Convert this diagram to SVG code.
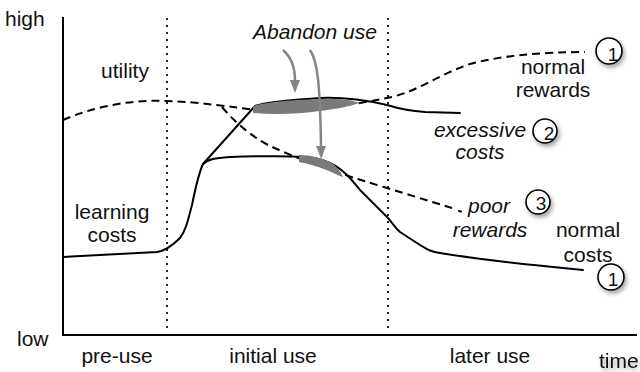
<svg xmlns="http://www.w3.org/2000/svg" width="640" height="372" viewBox="0 0 640 372">
  <defs>
    <style>
      text { font-family: "Liberation Sans", Arial, sans-serif; font-size: 21px; fill: #111; }
      .it { font-style: italic; }
      .mid { text-anchor: middle; }
      .axis { stroke: #000; stroke-width: 2; fill: none; }
      .phase { stroke: #222; stroke-width: 2; stroke-dasharray: 2 5; fill: none; }
      .solid { stroke: #000; stroke-width: 2; fill: none; stroke-linejoin: round; stroke-linecap: round; }
      .dash { stroke: #000; stroke-width: 2; fill: none; stroke-dasharray: 8 5; }
      .blob { fill: #7a7a7a; }
      .pointer { stroke: #858585; stroke-width: 2.5; fill: none; }
      .badge circle { fill: #fff; stroke: #000; stroke-width: 1.6; }
      .badge text { font-size: 19px; text-anchor: middle; }
    </style>
    <filter id="shadow" x="-50%" y="-50%" width="200%" height="200%">
      <feDropShadow dx="2" dy="3" stdDeviation="2" flood-color="#000" flood-opacity="0.35"/>
    </filter>
    <marker id="head" viewBox="0 0 13 10" refX="0" refY="5" markerWidth="13" markerHeight="10" markerUnits="userSpaceOnUse" orient="auto">
      <path d="M0,0 L13,5 L0,10 Z" fill="#858585"/>
    </marker>
  </defs>

  <rect width="640" height="372" fill="#fff"/>

  <!-- axes -->
  <g id="axes">
    <path class="axis" d="M63,17 V335 H637"/>
    <text x="5" y="26">high</text>
    <text x="17" y="346">low</text>
    <text x="599" y="368" filter="url(#shadow)">time</text>
  </g>

  <!-- phase boundaries and phase names -->
  <g id="phases">
    <line class="phase" x1="167" y1="18" x2="167" y2="332"/>
    <line class="phase" x1="388" y1="18" x2="388" y2="332"/>
    <text x="117" y="363" class="mid">pre-use</text>
    <text x="273" y="363" class="mid">initial use</text>
    <text x="490" y="363" class="mid">later use</text>
  </g>

  <!-- curves -->
  <g id="connectors">
    <!-- utility: normal rewards -->
    <path class="dash" d="M63,120 C90,108 130,99 166,101 C200,102 232,107 255,110 C290,112 330,107 360,103 C372,101 382,99 392,97 C420,90 440,74 470,64 C500,56 540,52 585,52"/>
    <!-- utility: poor rewards -->
    <path class="dash" d="M222,107 C234,121 248,134 268,145 C300,160 340,174 387,188 L452,208"/>
    <path class="solid" d="M459,211 L461,211.5"/>
    <!-- costs: excessive costs -->
    <path class="solid" d="M203,164 L255,106 C266,102 290,100 320,98 C345,97 365,100 387,105 C400,109 410,111 425,112 L460,113"/>
    <!-- costs: learning costs to normal costs -->
    <path class="solid" d="M63,257 C100,255 140,253 157,252 C164,251 172,246 180,238 C186,230 188,220 192,205 C195,190 198,175 203,164 C208,159 215,158 230,157 C260,156 290,156 305,157 C312,158 316,158 322,160 C332,163 340,168 347,175 C352,180 356,185 360,190 C370,200 380,210 387,217 C392,222 395,228 400,232 L420,245 C428,250 432,252 440,253 C470,258 520,264 573,269 L583,270"/>
    <!-- abandonment zones -->
    <path class="blob" d="M253,106 C266,102 290,100 320,99 C340,98 352,100 359,103 C352,106 336,109 320,111 C300,114 275,115 253,113 Z"/>
    <path class="blob" d="M299,155 C312,155 322,158 332,163 C337,167 340,171 343,177 C337,175 330,171 322,168 C312,165 305,163 299,162 Z"/>
    <!-- abandon use pointers -->
    <path class="pointer" d="M283,50 C291,57 295,66 295,80" marker-end="url(#head)"/>
    <path class="pointer" d="M310,50 C317,60 320,80 321,146" marker-end="url(#head)"/>
  </g>

  <!-- curve labels -->
  <g id="labels">
    <text x="125" y="78" class="mid">utility</text>
    <text x="112" y="219" class="mid">learning</text>
    <text x="112" y="242" class="mid">costs</text>
    <text x="315" y="39" class="it mid">Abandon use</text>
    <text x="553" y="74" class="mid">normal</text>
    <text x="553" y="97" class="mid">rewards</text>
    <text x="480" y="137" class="it mid">excessive</text>
    <text x="480" y="159" class="it mid">costs</text>
    <text x="489" y="213" class="it mid">poor</text>
    <text x="490" y="237" class="it mid">rewards</text>
    <text x="588" y="237" class="mid">normal</text>
    <text x="588" y="262" class="mid">costs</text>
  </g>

  <!-- outcome badges -->
  <g id="badge-normal-rewards" class="badge">
    <circle cx="609" cy="51" r="13" filter="url(#shadow)"/>
    <text x="613" y="61">1</text>
  </g>
  <g id="badge-excessive-costs" class="badge">
    <circle cx="545" cy="131" r="12" filter="url(#shadow)"/>
    <text x="549" y="140">2</text>
  </g>
  <g id="badge-poor-rewards" class="badge">
    <circle cx="538" cy="202" r="12" filter="url(#shadow)"/>
    <text x="541" y="210">3</text>
  </g>
  <g id="badge-normal-costs" class="badge">
    <circle cx="611" cy="277" r="13" filter="url(#shadow)"/>
    <text x="613" y="286">1</text>
  </g>
</svg>
